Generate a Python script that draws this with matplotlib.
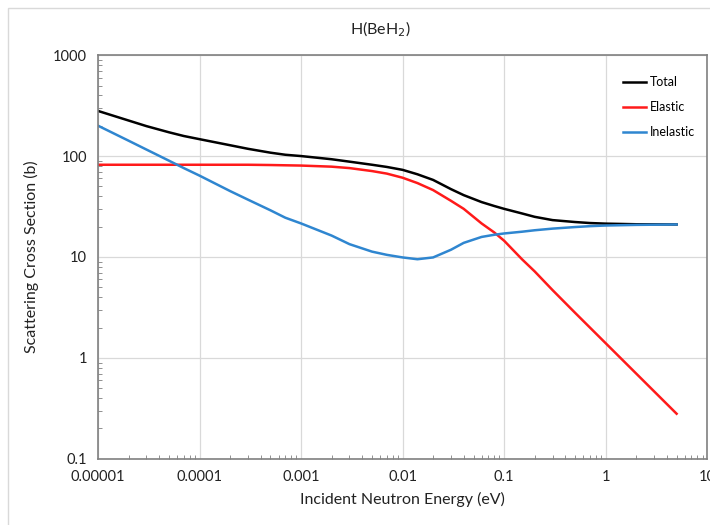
import matplotlib.pyplot as plt
from matplotlib.patches import Rectangle

plt.rcParams['font.family'] = ['Lato', 'DejaVu Sans']

energy = [1e-5, 2e-5, 3e-5, 5e-5, 7e-5, 1e-4, 2e-4, 3e-4, 5e-4, 7e-4, 1e-3,
          2e-3, 3e-3, 5e-3, 7e-3, 1e-2, 1.4e-2, 2e-2, 3e-2, 4e-2, 6e-2, 8e-2,
          0.1, 0.15, 0.2, 0.3, 0.5, 0.7, 1, 2, 5]
total = [280, 225, 198, 172, 158, 147, 128, 118, 108, 103, 100,
         93, 88, 82, 78, 73, 66, 58, 47, 41, 35, 32,
         30, 27, 25, 23.2, 22.2, 21.7, 21.4, 21.1, 21]
elastic = [82, 82, 82, 82, 82, 82, 82, 82, 81.5, 81, 80.5,
           78.5, 76, 71, 67, 61, 54, 46, 36, 30, 21.5, 17.5,
           14.5, 9.5, 7.2, 4.7, 2.8, 2.0, 1.4, 0.7, 0.28]
inelastic = [200, 142, 116, 90, 76, 64, 45, 37, 29, 24.5, 21.5,
             16.3, 13.4, 11.3, 10.5, 9.9, 9.5, 9.9, 11.8, 13.8, 15.8, 16.6,
             17.1, 17.8, 18.4, 19.1, 19.8, 20.2, 20.5, 20.8, 21]

xticks = [1e-5, 1e-4, 1e-3, 1e-2, 1e-1, 1, 10]
xlabels = ['0.00001', '0.0001', '0.001', '0.01', '0.1', '1', '10']
yticks = [0.1, 1, 10, 100, 1000]
ylabels = ['0.1', '1', '10', '100', '1000']

fig = plt.figure(figsize=(7.1, 5.25), dpi=100)
ax = fig.add_axes([0.138, 0.126, 0.858, 0.769])

ax.plot(energy, total, color='black', lw=1.8, label='Total')
ax.plot(energy, elastic, color='#ff1a1a', lw=1.8, label='Elastic')
ax.plot(energy, inelastic, color='#2f86d0', lw=1.8, label='Inelastic')

ax.set_xscale('log')
ax.set_yscale('log')
ax.set_xlim(1e-5, 10)
ax.set_ylim(0.1, 1000)
ax.set_xticks(xticks)
ax.set_xticklabels(xlabels)
ax.set_yticks(yticks)
ax.set_yticklabels(ylabels)
ax.grid(True, which='major', color='#d9d9d9', lw=0.9)
ax.tick_params(which='major', length=0, labelsize=10.5, colors='#222222', pad=8)
ax.tick_params(which='minor', direction='in', length=3, color='#7f7f7f')
for s in ax.spines.values():
    s.set_color('#808080')
    s.set_linewidth(1.2)

ax.set_xlabel('Incident Neutron Energy (eV)', fontsize=11.5, color='#222222', labelpad=6)
ax.set_ylabel('Scattering Cross Section (b)', fontsize=11.5, color='#222222', labelpad=10)
fig.text(0.536, 0.945, r'H(BeH$_2$)', ha='center', va='center', fontsize=11.5, color='#222222')

leg = ax.legend(loc='upper left', bbox_to_anchor=(617 / 710, 1 - 70 / 525),
                bbox_transform=fig.transFigure, fontsize=9, frameon=False,
                handlelength=1.8, handletextpad=0.3, borderpad=0,
                labelspacing=1.05)

fig.patches.append(Rectangle((0.011, -0.01), 1.0, 0.995, transform=fig.transFigure,
                             fill=False, edgecolor='#d9d9d9', lw=1))

fig.savefig('out.png', dpi=100)
